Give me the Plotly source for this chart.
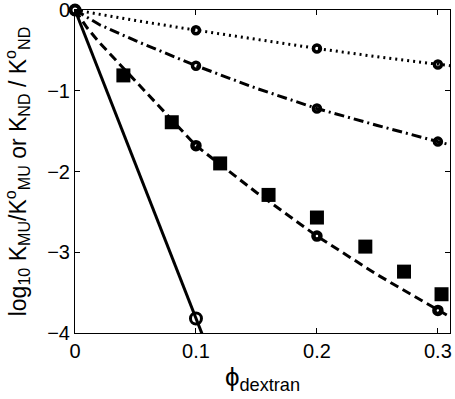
import plotly.graph_objects as go

# Model curves
dot_x = [0, 0.05, 0.1, 0.15, 0.2, 0.25, 0.3, 0.31]
dot_y = [0, -0.13, -0.25, -0.365, -0.476, -0.58, -0.674, -0.69]

dashdot_x = [0, 0.02, 0.05, 0.1, 0.15, 0.2, 0.25, 0.3, 0.31]
dashdot_y = [0, -0.18, -0.38, -0.69, -0.97, -1.22, -1.43, -1.63, -1.67]

dash_x = [0, 0.01, 0.02, 0.04, 0.06, 0.08, 0.10, 0.15, 0.20, 0.25, 0.30, 0.31]
dash_y = [0, -0.22, -0.40, -0.72, -1.03, -1.36, -1.68, -2.26, -2.80, -3.28, -3.72, -3.80]

solid_x = [0, 0.1, 0.11]
solid_y = [0, -3.82, -4.2]

# Circle points
dot_cx = [0.1, 0.2, 0.3]
dot_cy = [-0.25, -0.476, -0.674]
dashdot_cx = [0.1, 0.2, 0.3]
dashdot_cy = [-0.69, -1.22, -1.63]
dash_cx = [0.1, 0.2, 0.3]
dash_cy = [-1.68, -2.80, -3.72]
solid_cx = [0.1]
solid_cy = [-3.82]
origin_x = [0]
origin_y = [0]

# Experimental squares
sq_x = [0.04, 0.08, 0.12, 0.16, 0.2, 0.24, 0.272, 0.303]
sq_y = [-0.81, -1.39, -1.90, -2.29, -2.57, -2.93, -3.24, -3.52]

x_ticks = [0, 0.1, 0.2, 0.3]
x_ticklabels = ["0", "0.1", "0.2", "0.3"]
y_ticks = [-4, -3, -2, -1, 0]
y_ticklabels = ["\u22124", "\u22123", "\u22122", "\u22121", "0"]

fig = go.Figure()
lw = 3
fig.add_trace(go.Scatter(x=dot_x, y=dot_y, mode="lines",
                         line=dict(color="black", width=lw, dash="2px,4px")))
fig.add_trace(go.Scatter(x=dashdot_x, y=dashdot_y, mode="lines",
                         line=dict(color="black", width=lw, dash="10px,4px,2px,4px")))
fig.add_trace(go.Scatter(x=dash_x, y=dash_y, mode="lines",
                         line=dict(color="black", width=lw, dash="9px,5px")))
fig.add_trace(go.Scatter(x=solid_x, y=solid_y, mode="lines",
                         line=dict(color="black", width=lw)))

fig.add_trace(go.Scatter(x=sq_x, y=sq_y, mode="markers",
                         marker=dict(symbol="square", size=14, color="black")))

fig.add_trace(go.Scatter(x=dot_cx, y=dot_cy, mode="markers",
                         marker=dict(symbol="circle-open", size=7, color="black",
                                     line=dict(width=3.5, color="black"))))
fig.add_trace(go.Scatter(x=dashdot_cx, y=dashdot_cy, mode="markers",
                         marker=dict(symbol="circle-open", size=7, color="black",
                                     line=dict(width=3.5, color="black"))))
fig.add_trace(go.Scatter(x=dash_cx, y=dash_cy, mode="markers",
                         marker=dict(symbol="circle-open", size=7, color="black",
                                     line=dict(width=4.5, color="black"))))
fig.add_trace(go.Scatter(x=solid_cx, y=solid_cy, mode="markers",
                         marker=dict(symbol="circle-open", size=11, color="black",
                                     line=dict(width=3, color="black"))))
fig.add_trace(go.Scatter(x=origin_x, y=origin_y, mode="markers", cliponaxis=False,
                         marker=dict(symbol="circle-open", size=9, color="black",
                                     line=dict(width=4, color="black"))))

axis_common = dict(showgrid=False, zeroline=False, showline=True, linecolor="black",
                   linewidth=1, mirror="ticks", ticks="inside", ticklen=5,
                   tickcolor="black", tickwidth=1, automargin=False,
                   ticklabeloverflow="allow",
                   tickfont=dict(family="Liberation Sans, Arial, sans-serif", size=20,
                                 color="black"))

fig.update_layout(
    width=455, height=399,
    margin=dict(l=75, r=5, t=10, b=66),
    paper_bgcolor="white", plot_bgcolor="white",
    showlegend=False,
    font=dict(family="Liberation Sans, Arial, sans-serif", color="black"),
    xaxis=dict(range=[0, 0.31], tickvals=x_ticks, ticktext=x_ticklabels,
               title=dict(text="\u03d5<sub>dextran</sub>", font=dict(size=26), standoff=6),
               **axis_common),
    yaxis=dict(range=[-4, 0], tickvals=y_ticks, ticktext=y_ticklabels,
               title=dict(text="log<sub>10</sub> K<sub>MU</sub>/K<sup>o</sup><sub>MU</sub> or K<sub>ND</sub> / K<sup>o</sup><sub>ND</sub>",
                          font=dict(size=23), standoff=14),
               **axis_common),
)

fig.write_html("out.html", config={"displayModeBar": False},
               post_script="document.body.style.margin='0';")
